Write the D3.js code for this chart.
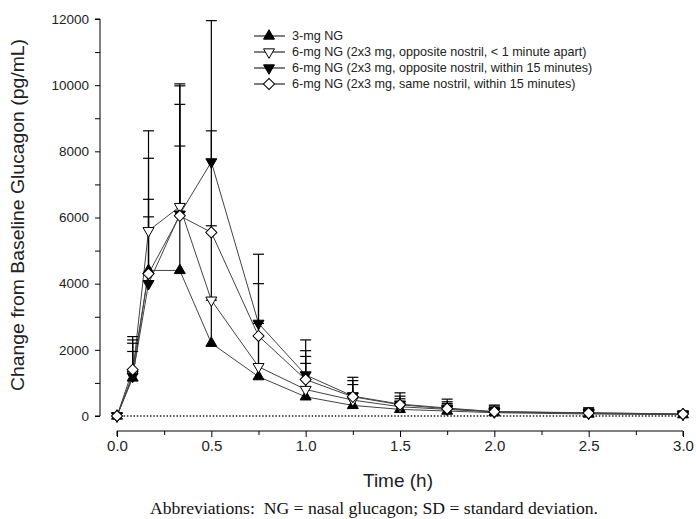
<!DOCTYPE html>
<html><head><meta charset="utf-8">
<script src="https://cdn.jsdelivr.net/npm/d3@7/dist/d3.min.js"></script>
<style>body{margin:0;background:#fff}svg{display:block}</style>
</head><body>
<svg id="c" width="696" height="519"></svg>
<script>
const times = [0, 0.083, 0.167, 0.333, 0.5, 0.75, 1.0, 1.25, 1.5, 1.75, 2.0, 2.5, 3.0];
const seriesNames = [
  "3-mg NG",
  "6-mg NG (2x3 mg, opposite nostril, < 1 minute apart)",
  "6-mg NG (2x3 mg, opposite nostril, within 15 minutes)",
  "6-mg NG (2x3 mg, same nostril, within 15 minutes)"
];
const mean3mg      = [0, 1150, 4400, 4400, 2200, 1190, 580, 320, 200, 150, 100, 60, 40];
const meanOpp1min  = [0, 1250, 5600, 6330, 3500, 1490, 800, 480, 280, 200, 120, 80, 50];
const meanOpp15min = [0, 1200, 4000, 6100, 7680, 2800, 1240, 600, 360, 240, 130, 100, 60];
const meanSame15   = [0, 1400, 4300, 6050, 5550, 2420, 1100, 580, 340, 220, 130, 90, 60];
const upper3mg      = [0, 2200, 6550, 8160, 3500, 2420, 1590, 700, 400, 300, 200, 120, 80];
const upperOpp1min  = [0, 2300, 7790, 9420, 5750, 2800, 1975, 950, 520, 380, 260, 180, 100];
const upperOpp15min = [0, 2400, 6020, 9980, 11950, 4890, 2300, 1170, 700, 510, 330, 250, 130];
const upperSame15   = [0, 1950, 8620, 10040, 8620, 4000, 1800, 1070, 600, 430, 300, 220, 120];
const yTicks = [0, 2000, 4000, 6000, 8000, 10000, 12000];
const xTicks = [0.0, 0.5, 1.0, 1.5, 2.0, 2.5, 3.0];

const series = [
  {name: seriesNames[0], mean: mean3mg, upper: upper3mg, shape: "up", fill: "#000"},
  {name: seriesNames[1], mean: meanOpp1min, upper: upperOpp1min, shape: "down", fill: "#fff"},
  {name: seriesNames[2], mean: meanOpp15min, upper: upperOpp15min, shape: "down", fill: "#000"},
  {name: seriesNames[3], mean: meanSame15, upper: upperSame15, shape: "diamond", fill: "#fff"}
];

const svg = d3.select("#c");
const x = d3.scaleLinear().domain([0, 3]).range([117, 683]);
const y = d3.scaleLinear().domain([0, 12000]).range([416, 19]);
const font = "'Liberation Sans', Arial, sans-serif";

// Y axis
const yAxis = d3.axisLeft(y).tickValues(d3.range(0, 12001, 1000)).tickSize(5)
  .tickFormat(d => yTicks.includes(d) ? d : "");
const gy = svg.append("g").attr("transform", "translate(100,0)").call(yAxis);
gy.select(".domain").attr("d", `M-5,${y(12000)}H0V${y(0)}H-5`).attr("stroke", "#000");
gy.selectAll("text").attr("font-family", font).attr("font-size", 13.5).attr("fill", "#222").attr("x", -11);

// X axis
const xAxis = d3.axisBottom(x).tickValues(d3.range(0, 3.001, 0.25)).tickSize(5)
  .tickFormat(d => xTicks.some(t => Math.abs(t - d) < 1e-6) ? d3.format(".1f")(d) : "");
const gx = svg.append("g").attr("transform", "translate(0,431)").call(xAxis);
gx.select(".domain").attr("d", `M${x(0)},5V0H${x(3)}V5`).attr("stroke", "#000");
gx.selectAll(".tick line").attr("y2", (d) => xTicks.some(t => Math.abs(t - d) < 1e-6) ? 6 : 4);
gx.selectAll("text").attr("font-family", font).attr("font-size", 15).attr("fill", "#222").attr("y", 9);

// Titles
svg.append("text").attr("transform", "translate(24,215) rotate(-90)").attr("text-anchor", "middle")
  .attr("font-family", font).attr("font-size", 18.5).attr("fill", "#222")
  .attr("textLength", 352).attr("lengthAdjust", "spacingAndGlyphs")
  .text("Change from Baseline Glucagon (pg/mL)");
svg.append("text").attr("x", 398).attr("y", 487).attr("text-anchor", "middle")
  .attr("font-family", font).attr("font-size", 19).attr("fill", "#222")
  .attr("textLength", 70).attr("lengthAdjust", "spacingAndGlyphs").text("Time (h)");
svg.append("text").attr("x", 374).attr("y", 514).attr("text-anchor", "middle")
  .attr("font-family", "'Liberation Serif', 'Times New Roman', serif").attr("font-size", 16).attr("fill", "#111")
  .attr("xml:space", "preserve").style("white-space", "pre")
  .attr("textLength", 448).attr("lengthAdjust", "spacingAndGlyphs")
  .text("Abbreviations:  NG = nasal glucagon; SD = standard deviation.");

// Zero dotted line
svg.append("line").attr("x1", x(0)).attr("x2", x(3)).attr("y1", y(0)).attr("y2", y(0))
  .attr("stroke", "#222").attr("stroke-width", 1.3).attr("stroke-dasharray", "1.5,1.8");

function symPath(shape) {
  if (shape === "diamond") return d3.symbol().type(d3.symbolSquare).size(62)();
  return d3.symbol().type(d3.symbolTriangle).size(52)();
}
function symTransform(shape, cx, cy) {
  if (shape === "diamond") return `translate(${cx},${cy}) rotate(45)`;
  if (shape === "down") return `translate(${cx},${cy}) rotate(180)`;
  return `translate(${cx},${cy})`;
}

const line = d3.line().x(d => x(d[0])).y(d => y(d[1]));
// lines
series.forEach(s => {
  svg.append("path").datum(times.map((t, i) => [t, s.mean[i]]))
    .attr("d", line).attr("fill", "none").attr("stroke", "#444").attr("stroke-width", 1);
});
// error bars (upper SD only)
series.forEach(s => {
  const g = svg.append("g").attr("stroke", "#000").attr("stroke-width", 1.2);
  times.forEach((t, i) => {
    if (t === 0) return;
    g.append("line").attr("x1", x(t)).attr("x2", x(t)).attr("y1", y(s.mean[i])).attr("y2", y(s.upper[i]));
    g.append("line").attr("x1", x(t) - 5.5).attr("x2", x(t) + 5.5).attr("y1", y(s.upper[i])).attr("y2", y(s.upper[i]));
  });
});
// markers
series.forEach(s => {
  svg.append("g").selectAll("path").data(times.map((t, i) => [t, s.mean[i]])).join("path")
    .attr("d", symPath(s.shape)).attr("transform", d => symTransform(s.shape, x(d[0]), y(d[1])))
    .attr("fill", s.fill).attr("stroke", "#000").attr("stroke-width", 1);
});

// Legend
const legY = [36, 52, 68, 84];
series.forEach((s, i) => {
  const g = svg.append("g");
  g.append("line").attr("x1", 254).attr("x2", 285).attr("y1", legY[i]).attr("y2", legY[i])
    .attr("stroke", "#000").attr("stroke-width", 1);
  g.append("path").attr("d", symPath(s.shape)).attr("transform", symTransform(s.shape, 269, legY[i]))
    .attr("fill", s.fill).attr("stroke", "#000").attr("stroke-width", 1);
  g.append("text").attr("x", 292).attr("y", legY[i]).attr("dy", "0.35em")
    .attr("font-family", font).attr("font-size", 12.6).attr("fill", "#222").text(s.name);
});
</script>
</body></html>
